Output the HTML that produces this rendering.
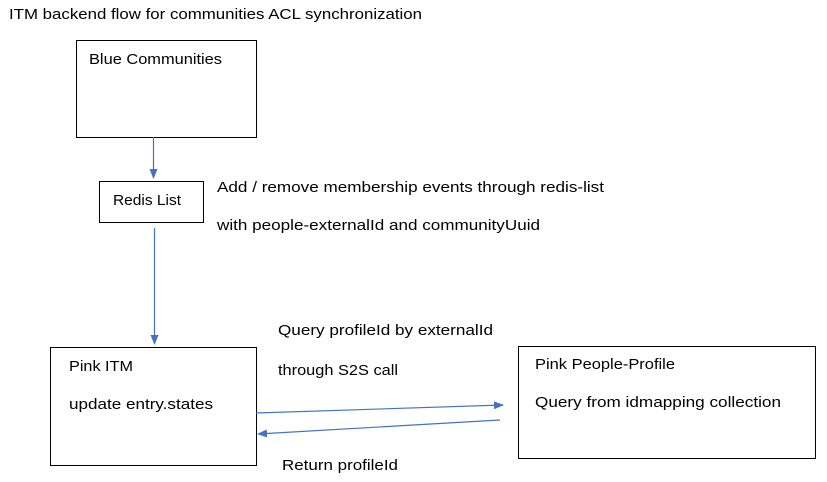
<!DOCTYPE html>
<html><head><meta charset="utf-8"><style>
body{margin:0;background:#fff;width:827px;height:482px;overflow:hidden}
svg{display:block}
text{font-family:"Liberation Sans",sans-serif;font-size:15px;fill:#000}
</style></head><body>
<svg width="827" height="482" viewBox="0 0 827 482">
<defs><marker id="a" markerWidth="10" markerHeight="10" refX="9" refY="5" orient="auto" markerUnits="userSpaceOnUse"><path d="M0,1 L10,5 L0,9 z" fill="#4472c4"/></marker></defs>
<text x="9" y="19" textLength="413" lengthAdjust="spacingAndGlyphs">ITM backend flow for communities ACL synchronization</text>
<rect x="76.5" y="40.5" width="180" height="97" fill="none" stroke="#000"/>
<text x="89" y="64" textLength="133" lengthAdjust="spacingAndGlyphs">Blue Communities</text>
<rect x="99.5" y="181.5" width="104" height="41" fill="none" stroke="#000"/>
<text x="113" y="205" textLength="68" lengthAdjust="spacingAndGlyphs">Redis List</text>
<text x="217" y="192" textLength="387" lengthAdjust="spacingAndGlyphs">Add / remove membership  events  through redis-list</text>
<text x="217" y="230" textLength="323" lengthAdjust="spacingAndGlyphs">with people-externalId and communityUuid</text>
<rect x="50.5" y="347.5" width="206" height="118" fill="none" stroke="#000"/>
<text x="69" y="371" textLength="64" lengthAdjust="spacingAndGlyphs">Pink ITM</text>
<text x="69" y="409" textLength="144" lengthAdjust="spacingAndGlyphs">update entry.states</text>
<rect x="518.5" y="346.5" width="297" height="112" fill="none" stroke="#000"/>
<text x="535" y="369" textLength="140" lengthAdjust="spacingAndGlyphs">Pink People-Profile</text>
<text x="535" y="407" textLength="246" lengthAdjust="spacingAndGlyphs">Query from idmapping collection</text>
<text x="278" y="335" textLength="215" lengthAdjust="spacingAndGlyphs">Query profileId by externalId</text>
<text x="278" y="375" textLength="120" lengthAdjust="spacingAndGlyphs">through S2S call</text>
<text x="282" y="470" textLength="116" lengthAdjust="spacingAndGlyphs">Return profileId</text>
<g stroke="#4472c4" stroke-width="1.2" fill="none">
<line x1="153.5" y1="137" x2="153.5" y2="178" marker-end="url(#a)"/>
<line x1="154.5" y1="228" x2="154.5" y2="344" marker-end="url(#a)"/>
<line x1="256" y1="413" x2="503" y2="405" marker-end="url(#a)"/>
<line x1="500" y1="420" x2="258" y2="434" marker-end="url(#a)"/>
</g>
</svg>
</body></html>
